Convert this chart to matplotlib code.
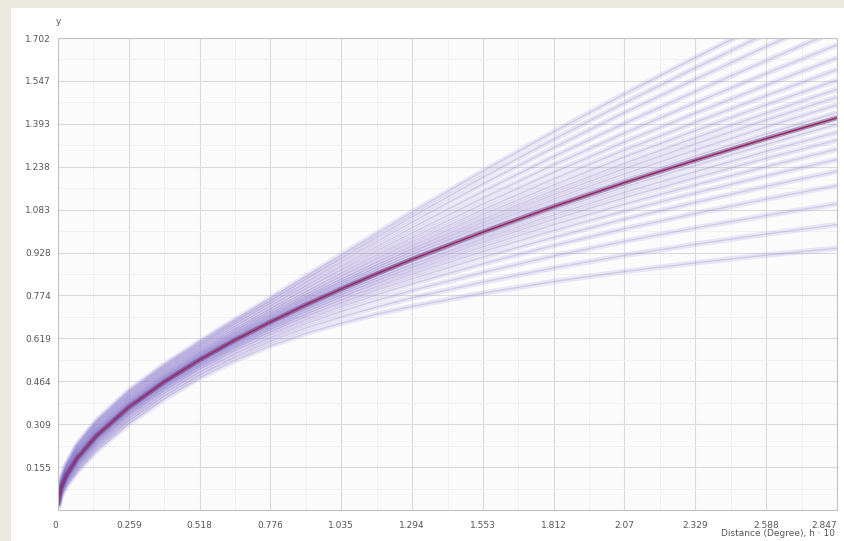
import matplotlib.pyplot as plt
from matplotlib.patches import Rectangle

# distances where the curves are sampled
dist = [0, 0.01, 0.03, 0.07, 0.14, 0.259, 0.388, 0.518, 0.647, 0.776, 0.906,
        1.035, 1.165, 1.294, 1.553, 1.812, 2.07, 2.329, 2.588, 2.847]

# median semivariogram (red line)
median_curve = [0.025, 0.077, 0.124, 0.187, 0.267, 0.371, 0.462, 0.542, 0.613, 0.678,
                0.740, 0.797, 0.852, 0.904, 1.002, 1.094, 1.180, 1.261, 1.339, 1.414]

# simulated semivariograms, read off the picture from lowest to highest
fan_curves = [
    [0.005, 0.047, 0.084, 0.137, 0.212, 0.311, 0.400, 0.476, 0.539, 0.592, 0.637, 0.674, 0.706, 0.734, 0.782, 0.824, 0.860, 0.891, 0.919, 0.944],
    [0.009, 0.052, 0.091, 0.146, 0.222, 0.322, 0.411, 0.488, 0.552, 0.608, 0.656, 0.696, 0.732, 0.765, 0.822, 0.873, 0.918, 0.958, 0.995, 1.029],
    [0.012, 0.057, 0.098, 0.154, 0.231, 0.331, 0.421, 0.498, 0.564, 0.621, 0.672, 0.716, 0.756, 0.792, 0.857, 0.916, 0.969, 1.017, 1.062, 1.104],
    [0.015, 0.061, 0.103, 0.161, 0.238, 0.340, 0.430, 0.508, 0.575, 0.633, 0.686, 0.733, 0.776, 0.816, 0.888, 0.954, 1.014, 1.069, 1.121, 1.170],
    [0.017, 0.065, 0.108, 0.167, 0.244, 0.346, 0.437, 0.515, 0.583, 0.643, 0.698, 0.747, 0.792, 0.834, 0.912, 0.983, 1.049, 1.109, 1.167, 1.221],
    [0.019, 0.067, 0.111, 0.171, 0.249, 0.352, 0.442, 0.521, 0.589, 0.651, 0.707, 0.758, 0.805, 0.850, 0.932, 1.008, 1.078, 1.143, 1.205, 1.264],
    [0.020, 0.070, 0.114, 0.175, 0.254, 0.357, 0.447, 0.526, 0.595, 0.657, 0.715, 0.768, 0.817, 0.863, 0.949, 1.029, 1.103, 1.172, 1.238, 1.301],
    [0.022, 0.072, 0.117, 0.179, 0.258, 0.361, 0.452, 0.531, 0.600, 0.663, 0.723, 0.776, 0.827, 0.875, 0.965, 1.048, 1.126, 1.198, 1.268, 1.334],
    [0.023, 0.074, 0.120, 0.182, 0.261, 0.364, 0.455, 0.535, 0.605, 0.669, 0.729, 0.784, 0.836, 0.885, 0.978, 1.064, 1.145, 1.220, 1.293, 1.362],
    [0.024, 0.076, 0.122, 0.185, 0.264, 0.368, 0.459, 0.539, 0.609, 0.674, 0.735, 0.791, 0.845, 0.896, 0.991, 1.081, 1.164, 1.243, 1.318, 1.391],
    [0.026, 0.078, 0.126, 0.189, 0.269, 0.373, 0.465, 0.545, 0.616, 0.681, 0.744, 0.802, 0.858, 0.911, 1.011, 1.105, 1.193, 1.276, 1.356, 1.433],
    [0.027, 0.080, 0.128, 0.192, 0.273, 0.377, 0.468, 0.549, 0.620, 0.687, 0.750, 0.809, 0.867, 0.921, 1.024, 1.121, 1.212, 1.298, 1.381, 1.461],
    [0.028, 0.082, 0.130, 0.195, 0.276, 0.381, 0.472, 0.553, 0.625, 0.692, 0.757, 0.817, 0.875, 0.931, 1.037, 1.137, 1.231, 1.320, 1.406, 1.489],
    [0.029, 0.084, 0.133, 0.198, 0.279, 0.384, 0.476, 0.557, 0.629, 0.697, 0.763, 0.824, 0.884, 0.941, 1.050, 1.153, 1.250, 1.342, 1.431, 1.517],
    [0.031, 0.086, 0.136, 0.202, 0.283, 0.388, 0.480, 0.561, 0.635, 0.703, 0.770, 0.833, 0.894, 0.953, 1.066, 1.172, 1.273, 1.368, 1.461, 1.550],
    [0.032, 0.088, 0.139, 0.206, 0.287, 0.393, 0.485, 0.566, 0.640, 0.710, 0.778, 0.843, 0.906, 0.967, 1.083, 1.194, 1.298, 1.398, 1.494, 1.588],
    [0.034, 0.091, 0.142, 0.210, 0.292, 0.399, 0.491, 0.572, 0.647, 0.718, 0.787, 0.854, 0.919, 0.982, 1.103, 1.218, 1.327, 1.431, 1.532, 1.630],
    [0.036, 0.094, 0.146, 0.215, 0.298, 0.405, 0.497, 0.579, 0.654, 0.726, 0.798, 0.866, 0.934, 0.999, 1.125, 1.245, 1.359, 1.468, 1.574, 1.677],
    [0.038, 0.097, 0.151, 0.221, 0.304, 0.411, 0.504, 0.586, 0.663, 0.736, 0.809, 0.879, 0.950, 1.018, 1.149, 1.275, 1.394, 1.509, 1.620, 1.729],
    [0.041, 0.101, 0.156, 0.227, 0.311, 0.418, 0.511, 0.594, 0.672, 0.746, 0.821, 0.894, 0.967, 1.038, 1.176, 1.307, 1.433, 1.553, 1.671, 1.785],
    [0.043, 0.104, 0.160, 0.232, 0.317, 0.425, 0.518, 0.601, 0.680, 0.755, 0.833, 0.908, 0.983, 1.057, 1.200, 1.337, 1.468, 1.594, 1.717, 1.837],
    [0.045, 0.107, 0.164, 0.237, 0.322, 0.431, 0.524, 0.608, 0.687, 0.764, 0.843, 0.920, 0.998, 1.074, 1.222, 1.364, 1.500, 1.631, 1.759, 1.884],
]

x_ticks = [0, 0.259, 0.518, 0.776, 1.035, 1.294, 1.553, 1.812, 2.07, 2.329, 2.588, 2.847]
x_labels = ['0', '0.259', '0.518', '0.776', '1.035', '1.294', '1.553', '1.812', '2.07',
            '2.329', '2.588', '2.847']
y_ticks = [0, 0.155, 0.309, 0.464, 0.619, 0.774, 0.928, 1.083, 1.238, 1.393, 1.547, 1.702]
y_labels = ['', '0.155', '0.309', '0.464', '0.619', '0.774', '0.928', '1.083', '1.238',
            '1.393', '1.547', '1.702']

fig = plt.figure(figsize=(8.44, 5.41), dpi=100, facecolor='#ebe9df')
# white panel, the beige strip shows only on the left and top
fig.patches.append(Rectangle((11 / 844, 0), 1 - 11 / 844, 1 - 8 / 541,
                             transform=fig.transFigure, facecolor='white',
                             edgecolor='none', zorder=-10))

ax = fig.add_axes([58 / 844, 31 / 541, 779 / 844, 472 / 541])
ax.set_facecolor('#fbfbfb')

# light minor grid at half steps, stronger major grid
half_x = [(a + b) / 2 for a, b in zip(x_ticks[:-1], x_ticks[1:])]
half_y = [(a + b) / 2 for a, b in zip(y_ticks[:-1], y_ticks[1:])]
ax.set_xticks(half_x, minor=True)
ax.set_yticks(half_y, minor=True)
ax.grid(True, which='major', color='#dadada', linewidth=0.8)
ax.grid(True, which='minor', color='#f0f0f0', linewidth=0.6)
ax.set_axisbelow(True)

# soft lavender fan
for curve in fan_curves:
    ax.plot(dist, curve, color='#9d8fd8', alpha=0.2, linewidth=4.0,
            solid_capstyle='butt', solid_joinstyle='round')
for curve in fan_curves:
    ax.plot(dist, curve, color='#6a56b8', alpha=0.2, linewidth=0.9,
            solid_joinstyle='round')
ax.plot(dist, median_curve, color='#5a348e', alpha=0.5, linewidth=3.5,
        solid_joinstyle='round')
ax.plot(dist, median_curve, color='#a02c5c', linewidth=1.2, solid_joinstyle='round')

ax.set_xlim(0, 2.847)
ax.set_ylim(0, 1.702)
ax.set_xticks(x_ticks)
ax.set_xticklabels(x_labels)
ax.set_yticks(y_ticks)
ax.set_yticklabels(y_labels)
xl = ax.get_xticklabels()
xl[0].set_horizontalalignment('right')
xl[-1].set_horizontalalignment('right')
ax.tick_params(which='both', length=0, labelsize=6.5, labelcolor='#555555')
ax.tick_params(axis='x', pad=8)
ax.tick_params(axis='y', pad=5)
for s in ax.spines.values():
    s.set_color('#c4c4c4')
    s.set_linewidth(0.8)

fig.text(58 / 844, 1 - 22 / 541, 'y', fontsize=6.5, color='#555555',
         ha='center', va='center')
fig.text(835 / 844, 1 - 534 / 541, 'Distance (Degree), h · 10', fontsize=6.5,
         color='#555555', ha='right', va='center')

plt.savefig('out.png', dpi=100, facecolor=fig.get_facecolor())
